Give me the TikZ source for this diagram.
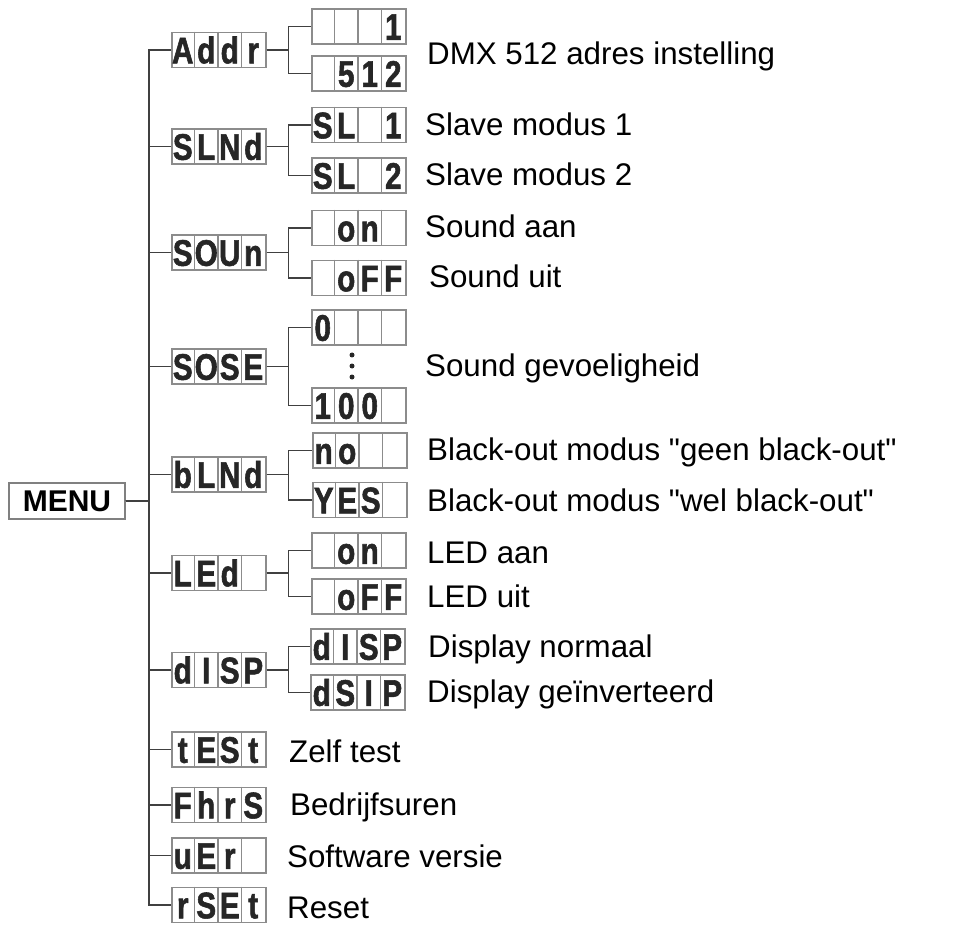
\documentclass[tikz,border=0pt]{standalone}
\usepackage{fontspec}
\setmainfont{Liberation Sans}[Ligatures=TeXOff]
\newfontfamily\segfont[FakeStretch=0.8, FakeBold=1.5]{Liberation Sans}

% one display: name, west point, four cells
\newcommand{\lcd}[6]{%
  \node[lcdbox] (#1) at (#2) {};
  \draw[lcdcell] ([xshift=23.5pt]#1.north west) -- ([xshift=23.5pt]#1.south west);
  \draw[lcdcell] ([xshift=47pt]#1.north west) -- ([xshift=47pt]#1.south west);
  \draw[lcdcell] ([xshift=70.5pt]#1.north west) -- ([xshift=70.5pt]#1.south west);
  \node[lcdchar] at ([xshift=11.75pt,yshift=5pt]#1.south west) {#3};
  \node[lcdchar] at ([xshift=35.25pt,yshift=5pt]#1.south west) {#4};
  \node[lcdchar] at ([xshift=58.75pt,yshift=5pt]#1.south west) {#5};
  \node[lcdchar] at ([xshift=82.25pt,yshift=5pt]#1.south west) {#6};
}

\tikzset{
  lcdbox/.style={rectangle, draw=black!45, line width=1.6pt, anchor=west,
    minimum width=94pt, minimum height=35pt, inner sep=0pt},
  lcdcell/.style={draw=black!45, line width=1.4pt},
  lcdchar/.style={anchor=base, inner sep=0pt, text=black!85,
    font=\segfont\bfseries\fontsize{37}{37}\selectfont},
  wire/.style={draw=black!75, line width=1.6pt},
  lbl/.style={anchor=base west, inner sep=0pt,
    font=\fontsize{31.3}{36}\selectfont},
}

\begin{document}
\begin{tikzpicture}[x=1pt, y=-1pt]
  \useasboundingbox (0,0) rectangle (956,925);

  % Menu
  \node[draw=black!50, line width=1.4pt, minimum width=116pt, minimum height=36pt,
    inner sep=0pt, font=\bfseries\fontsize{30}{36}\selectfont] (menu) at (67,501) {MENU};

  % First level
  \lcd{addr}{171,50}{A}{d}{d}{r}
  \lcd{slnd}{171,146.5}{S}{L}{N}{d}
  \lcd{soun}{171,252.5}{S}{O}{U}{n}
  \lcd{sose}{171,366.5}{S}{O}{S}{E}
  \lcd{blnd}{171,474.5}{b}{L}{N}{d}
  \lcd{led}{171,573}{L}{E}{d}{}
  \lcd{disp}{171,670}{d}{I}{S}{P}
  \lcd{test}{171,749.5}{t}{E}{S}{t}
  \lcd{fhrs}{171,805}{F}{h}{r}{S}
  \lcd{ver}{171,855.5}{u}{E}{r}{}
  \lcd{rset}{171,905}{r}{S}{E}{t}

  % Second level
  \lcd{addra}{311,26.5}{}{}{}{1}
  \lcd{addrb}{311,73.5}{}{5}{1}{2}
  \lcd{slnda}{311,125}{S}{L}{}{1}
  \lcd{slndb}{311,175.5}{S}{L}{}{2}
  \lcd{souna}{311,228}{}{o}{n}{}
  \lcd{sounb}{311,278}{}{o}{F}{F}
  \lcd{sosea}{311,327.5}{0}{}{}{}
  \lcd{soseb}{311,405.5}{1}{0}{0}{}
  \lcd{blnda}{312,450.5}{n}{o}{}{}
  \lcd{blndb}{312,500}{Y}{E}{S}{}
  \lcd{leda}{311,550.5}{}{o}{n}{}
  \lcd{ledb}{311,596.5}{}{o}{F}{F}
  \lcd{dispa}{310,646.5}{d}{I}{S}{P}
  \lcd{dispb}{310,692.5}{d}{S}{I}{P}

  % Dots between 0 and 100
  \fill[black!85] (352,355) circle (2.5pt);
  \fill[black!85] (352,366) circle (2.5pt);
  \fill[black!85] (352,377) circle (2.5pt);

  % Connectors
  \foreach \n in {addr,slnd,soun,sose,blnd,led,disp,test,fhrs,ver,rset}
    \draw[wire] (menu.east) -- ++(23,0) |- (\n.west);
  \foreach \p/\c in {addr/addra, addr/addrb, slnd/slnda, slnd/slndb,
      soun/souna, soun/sounb, sose/sosea, sose/soseb, blnd/blnda, blnd/blndb,
      led/leda, led/ledb, disp/dispa, disp/dispb}
    \draw[wire] (\p.east) -- ++(22,0) |- (\c.west);

  % Labels
  \node[lbl] (tdmx) at (427,65) {DMX 512 adres instelling};
  \node[lbl] (tsl1) at (425,136) {Slave modus 1};
  \node[lbl] (tsl2) at (425,186) {Slave modus 2};
  \node[lbl] (tsnd1) at (425,238) {Sound aan};
  \node[lbl] (tsnd2) at (429,288) {Sound uit};
  \node[lbl] (tsens) at (425,377) {Sound gevoeligheid};
  \node[lbl] (tblk1) at (427,460) {Black-out modus "geen black-out"};
  \node[lbl] (tblk2) at (427,511) {Black-out modus "wel black-out"};
  \node[lbl] (tled1) at (427,563) {LED aan};
  \node[lbl] (tled2) at (427,607) {LED uit};
  \node[lbl] (tdsp1) at (428,657) {Display normaal};
  \node[lbl] (tdsp2) at (427,702) {Display geïnverteerd};
  \node[lbl] (ttest) at (289,762) {Zelf test};
  \node[lbl] (thrs) at (290,815) {Bedrijfsuren};
  \node[lbl] (tver) at (287,867) {Software versie};
  \node[lbl] (trst) at (287,918) {Reset};
\end{tikzpicture}
\end{document}
